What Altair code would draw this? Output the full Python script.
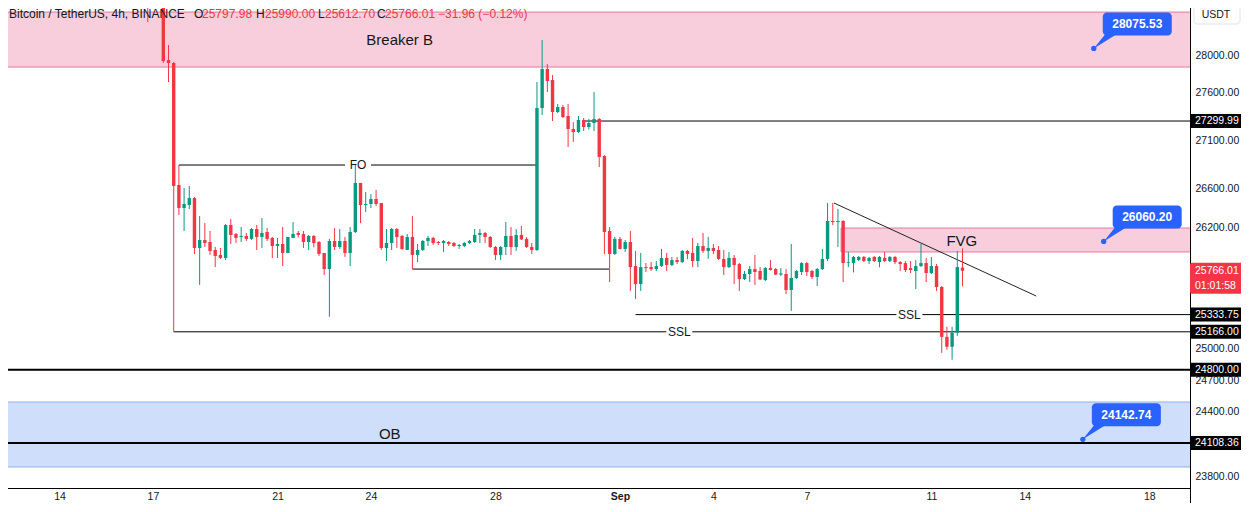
import altair as alt
import pandas as pd

GREEN = "#089981"
RED = "#F23645"
INK = "#131722"
BLUE = "#2962FF"
PINK_FILL = "#F8CEDC"
PINK_EDGE = "#E07A9E"
BLUE_FILL = "#CFDEFB"
BLUE_EDGE = "#8DB0F2"
FONT = "Liberation Sans"

# ---- 4h candles, index 0 = 17 Aug 00:00 ----
first_index = -1
opens = [28900, 28700, 28800, 28600, 27950, 27918, 26634, 26398, 26429, 26500,
         25994, 26074, 26054, 25974, 25924, 25894, 26225, 26135, 26105, 26115,
         26085, 26185, 26105, 26155, 26095, 26014, 26034, 25944, 26095, 26145,
         26135, 26054, 26115, 26054, 25944, 25783, 26064, 26004, 26064, 25944,
         26155, 26655, 26429, 26439, 26490, 26449, 25994, 26044, 26185, 26115,
         25974, 26105, 25924, 25974, 26064, 26095, 26054, 26044, 26054, 26044,
         26014, 26014, 26044, 26054, 26125, 26145, 26105, 26004, 25924, 26004,
         26115, 26004, 26125, 26085, 26004, 25974, 27437, 27854, 27736, 27395,
         27448, 27353, 27216, 27184, 27311, 27237, 27279, 27321, 26934, 26165,
         25934, 26085, 25984, 26054, 25813, 25634, 25803, 25803, 25783, 25813,
         25894, 25823, 25873, 25853, 25964, 25944, 25863, 26014, 25964, 25994,
         25974, 25884, 25803, 25894, 25833, 25684, 25734, 25783, 25764, 25674,
         25793, 25783, 25728, 25734, 25576, 25694, 25754, 25843, 25764, 25704,
         25783, 25884, 26266, 26256, 26266, 25843, 25843, 25874, 25904, 25863,
         25904, 25853, 25894, 25863, 25904, 25853, 25843, 25793, 25764, 25813,
         25843, 25744, 25813, 25605, 25117, 25021, 25156, 25797.98]
highs = [29000, 28900, 28850, 28620, 28113, 27930, 26840, 26603, 26624, 26510,
         26317, 26245, 26165, 26004, 25994, 26235, 26286, 26145, 26205, 26145,
         26195, 26225, 26296, 26195, 26105, 26095, 26205, 26105, 26256, 26165,
         26165, 26125, 26125, 26064, 25944, 26085, 26195, 26185, 26105, 26205,
         26840, 26655, 26562, 26541, 26583, 26449, 26185, 26195, 26195, 26125,
         26135, 26317, 26034, 26074, 26115, 26105, 26064, 26074, 26064, 26054,
         26034, 26054, 26074, 26185, 26185, 26155, 26115, 26014, 26014, 26256,
         26205, 26185, 26215, 26105, 26044, 27714, 28167, 27907, 27789, 27480,
         27470, 27480, 27289, 27353, 27332, 27321, 27607, 27332, 26944, 26205,
         26105, 26105, 26074, 26165, 25964, 25944, 25843, 25853, 25863, 25984,
         25944, 25904, 25904, 25974, 25974, 26095, 26044, 26145, 26105, 26034,
         26014, 25974, 25954, 25924, 25843, 25764, 25813, 25924, 25803, 25803,
         25873, 25793, 25793, 25783, 26034, 25774, 25853, 25853, 25774, 25793,
         25984, 26449, 26449, 26388, 26276, 25954, 25914, 25914, 25914, 25904,
         25914, 25914, 25954, 25914, 25914, 25863, 25863, 25863, 25873, 26034,
         25894, 25904, 25833, 25615, 25215, 25215, 25964, 25990.00]
lows = [28364, 28620, 28560, 27920, 27714, 25166, 26327, 26165, 26388, 25934,
        25625, 26004, 25924, 25803, 25884, 25873, 26034, 26044, 26054, 26064,
        26075, 25974, 25994, 26064, 25894, 25894, 25813, 25944, 26095, 26100,
        25994, 25973, 26000, 25914, 25724, 25312, 25974, 25984, 25904, 25813,
        26145, 26245, 26357, 26398, 26419, 25974, 25863, 25974, 25994, 25974,
        25974, 25783, 25853, 25964, 26014, 26024, 26024, 25954, 26014, 26004,
        25984, 26004, 26034, 26044, 26044, 26044, 25994, 25873, 25873, 25924,
        25924, 25964, 26074, 25994, 25934, 25964, 27363, 27607, 27300, 27384,
        27332, 27027, 27080, 27174, 27195, 27210, 27195, 26819, 25934, 25654,
        25924, 25980, 25954, 25566, 25487, 25566, 25754, 25764, 25764, 25803,
        25764, 25813, 25833, 25843, 25880, 25803, 25803, 25944, 25884, 25934,
        25874, 25724, 25793, 25634, 25566, 25674, 25654, 25625, 25674, 25664,
        25770, 25724, 25714, 25536, 25370, 25684, 25724, 25714, 25684, 25615,
        25774, 25863, 26225, 26004, 25654, 25803, 25750, 25863, 25853, 25833,
        25853, 25800, 25853, 25853, 25833, 25764, 25754, 25744, 25585, 25803,
        25654, 25734, 25566, 24963, 24992, 24896, 25127, 25612.70]
closes = [28700, 28800, 28600, 27940, 27918, 26624, 26398, 26439, 26500, 25994,
          26074, 26044, 25964, 25914, 25894, 26225, 26125, 26095, 26115, 26085,
          26185, 26105, 26145, 26085, 26014, 26034, 25944, 26105, 26135, 26125,
          26054, 26115, 26044, 25934, 25783, 26064, 26004, 26064, 25944, 26155,
          26655, 26429, 26439, 26490, 26439, 25994, 26044, 26185, 26105, 25984,
          26105, 25924, 25974, 26064, 26095, 26044, 26044, 26064, 26034, 26014,
          26024, 26044, 26064, 26125, 26145, 26105, 26004, 25924, 26004, 26115,
          26004, 26125, 26080, 26004, 25974, 27437, 27854, 27725, 27395, 27448,
          27342, 27216, 27184, 27311, 27237, 27279, 27321, 26924, 26155, 25934,
          26085, 25984, 26054, 25803, 25634, 25803, 25793, 25783, 25813, 25894,
          25823, 25873, 25853, 25964, 25934, 25863, 26014, 25964, 25994, 25964,
          25884, 25803, 25894, 25823, 25684, 25734, 25783, 25754, 25680, 25793,
          25774, 25728, 25740, 25576, 25694, 25764, 25843, 25754, 25704, 25783,
          25884, 26266, 26256, 26266, 25843, 25850, 25904, 25904, 25863, 25894,
          25863, 25904, 25863, 25904, 25853, 25833, 25774, 25774, 25813, 25843,
          25744, 25813, 25605, 25117, 25021, 25156, 25803, 25766.01]

# ---- zones ----
pink_zone_names = ["Breaker B", "FVG"]
pink_zone_t0 = [11.0, 39.1]
pink_zone_t1 = [52.0, 52.0]
pink_zone_lo = [27875, 25954]
pink_zone_hi = [28473, 26195]
pink_label_t = [24.924, 42.98]
pink_label_p = [28167, 26064]

blue_zone_names = ["OB"]
blue_zone_t0 = [11.0]
blue_zone_t1 = [52.0]
blue_zone_lo = [23886]
blue_zone_hi = [24493]
blue_label_t = [24.605]
blue_label_p = [24193]

# ---- horizontal levels ----
thin_level_p = [26840, 25166, 25783, 27299.99, 25333.75]
thin_level_t0 = [17.833, 17.667, 25.333, 30.833, 32.5]
thin_level_t1 = [29.333, 52.0, 31.667, 52.0, 52.0]
thick_level_p = [24800.00, 24108.36]
thick_level_t0 = [11.0, 11.0]
thick_level_t1 = [52.0, 52.0]

line_label_text = ["FO", "SSL", "SSL"]
line_label_t = [23.586, 33.904, 41.293]
line_label_p = [26840, 25166, 25333.75]

trend_t = [38.873, 45.369]
trend_p = [26449, 25516]

tag_prices = [27299.99, 25333.75, 25166.00, 24800.00, 24108.36]
last_price = [25766.01]
countdown = ["01:01:58"]

callout_p = [28075.53, 26060.20, 24142.74]
callout_t = [47.217, 47.535, 46.866]

day_ticks = [14, 17, 21, 24, 28, 32, 35, 38, 42, 45, 49]
price_ticks = [23800, 24400, 24700, 25000, 26200, 26600, 27100, 27600, 28000]

symbol_text = "Bitcoin / TetherUS, 4h, BINANCE"
change_text = "\u221231.96 (\u22120.12%)"

# ---- frames ----
candles = pd.DataFrame({"o": opens, "h": highs, "l": lows, "c": closes})
candles["i"] = range(first_index, first_index + len(opens))
candles["t"] = 17 + candles["i"] / 6

pink = pd.DataFrame({"name": pink_zone_names, "t0": pink_zone_t0, "t1": pink_zone_t1,
                     "lo": pink_zone_lo, "hi": pink_zone_hi,
                     "lt": pink_label_t, "lp": pink_label_p})
blue = pd.DataFrame({"name": blue_zone_names, "t0": blue_zone_t0, "t1": blue_zone_t1,
                     "lo": blue_zone_lo, "hi": blue_zone_hi,
                     "lt": blue_label_t, "lp": blue_label_p})
thin = pd.DataFrame({"p": thin_level_p, "t0": thin_level_t0, "t1": thin_level_t1})
thick = pd.DataFrame({"p": thick_level_p, "t0": thick_level_t0, "t1": thick_level_t1})
lbl = pd.DataFrame({"txt": line_label_text, "t": line_label_t, "p": line_label_p})
trend = pd.DataFrame({"t0": [trend_t[0]], "t1": [trend_t[1]],
                      "p0": [trend_p[0]], "p1": [trend_p[1]]})
tags = pd.DataFrame({"p": tag_prices})
last = pd.DataFrame({"p": last_price, "cd": countdown})
calls = pd.DataFrame({"p": callout_p, "t": callout_t})

xs = alt.Scale(domain=[12.2484, 50.1465], nice=False, zero=False)
ys = alt.Scale(type="log", domain=[23693, 28606], nice=False, zero=False)

AX_FS = 10.5
xaxis = alt.Axis(values=day_ticks, title=None, grid=False, ticks=False,
                 labelExpr="datum.value == 32 ? 'Sep' : (datum.value > 31 ? '' + (datum.value - 31) : '' + datum.value)",
                 labelFontWeight={"condition": {"test": "datum.value == 32", "value": "bold"}, "value": "normal"},
                 domainColor="#000000", domainWidth=1, labelColor=INK, labelFont=FONT,
                 labelFontSize=AX_FS, labelPadding=3)
yaxis = alt.Axis(orient="right", values=price_ticks, format=".2f", title=None, grid=False,
                 ticks=False, domainColor="#000000", domainWidth=1, labelColor=INK,
                 labelFont=FONT, labelFontSize=AX_FS, labelPadding=5, labelAlign="left",
                 labelOverlap=False)


def X(f):
    return alt.X(f, type="quantitative", scale=xs, axis=xaxis)


def Y(f):
    return alt.Y(f, type="quantitative", scale=ys, axis=yaxis)


layers = []

# zones
layers.append(alt.Chart(pink).mark_rect(fill=PINK_FILL, stroke=PINK_EDGE, strokeWidth=1, clip=True)
              .encode(x=X("t0"), x2="t1", y=Y("lo"), y2="hi"))
layers.append(alt.Chart(blue).mark_rect(fill=BLUE_FILL, stroke=BLUE_EDGE, strokeWidth=1, clip=True)
              .encode(x=X("t0"), x2="t1", y=Y("lo"), y2="hi"))

# levels
layers.append(alt.Chart(thin).mark_rule(color="#000000", strokeWidth=1, clip=True)
              .encode(x=X("t0"), x2="t1", y=Y("p")))
layers.append(alt.Chart(thick).mark_rule(color="#000000", strokeWidth=2, clip=True)
              .encode(x=X("t0"), x2="t1", y=Y("p")))
layers.append(alt.Chart(trend).mark_rule(color="#222222", strokeWidth=1, clip=True)
              .encode(x=X("t0"), x2="t1", y=Y("p0"), y2="p1"))

# line labels with white gaps
layers.append(alt.Chart(lbl).mark_rect(color="white", xOffset=-13, x2Offset=13, yOffset=-6, y2Offset=6)
              .encode(x=X("t"), x2="t", y=Y("p"), y2="p"))
layers.append(alt.Chart(lbl).mark_text(font=FONT, fontSize=12, color=INK, baseline="middle")
              .encode(x=X("t"), y=Y("p"), text="txt"))

# zone labels
layers.append(alt.Chart(pink).mark_text(font=FONT, fontSize=15, color=INK, baseline="middle")
              .encode(x=X("lt"), y=Y("lp"), text="name"))
layers.append(alt.Chart(blue).mark_text(font=FONT, fontSize=15, color=INK, baseline="middle")
              .encode(x=X("lt"), y=Y("lp"), text="name"))

# candles
col = alt.condition("datum.c >= datum.o", alt.value(GREEN), alt.value(RED))
layers.append(alt.Chart(candles).mark_rule(strokeWidth=1, clip=True)
              .encode(x=X("t"), y=Y("l"), y2="h", color=col))
layers.append(alt.Chart(candles).mark_bar(size=3.4, clip=True)
              .encode(x=X("t"), y=Y("o"), y2="c", color=col))

# callouts
layers.append(alt.Chart(calls).mark_point(shape="M0,0L0.48,-0.6L0.96,-0.6Z", size=2500,
                                          filled=True, color=BLUE, opacity=1, strokeWidth=0)
              .encode(x=X("t"), y=Y("p")))
layers.append(alt.Chart(calls).mark_point(shape="circle", size=28, filled=True, color=BLUE, opacity=1)
              .encode(x=X("t"), y=Y("p")))
layers.append(alt.Chart(calls).mark_rect(color=BLUE, cornerRadius=4, xOffset=9, x2Offset=78,
                                         yOffset=-36, y2Offset=-13)
              .encode(x=X("t"), x2="t", y=Y("p"), y2="p"))
layers.append(alt.Chart(calls).mark_text(font=FONT, fontSize=12, fontWeight="bold", color="white",
                                         dx=43.5, dy=-24.5, baseline="middle")
              .encode(x=X("t"), y=Y("p"), text=alt.Text("p", type="quantitative", format=".2f")))

# price tags on the axis
layers.append(alt.Chart(tags).mark_rect(color="#000000", yOffset=-7, y2Offset=7)
              .encode(x=alt.value(1190), x2=alt.value(1248), y=Y("p"), y2="p"))
layers.append(alt.Chart(tags).mark_text(font=FONT, fontSize=AX_FS, color="white", align="left", baseline="middle")
              .encode(x=alt.value(1195), y=Y("p"), text=alt.Text("p", type="quantitative", format=".2f")))
layers.append(alt.Chart(last).mark_rect(color=RED, yOffset=-8, y2Offset=23, cornerRadius=2)
              .encode(x=alt.value(1190), x2=alt.value(1248), y=Y("p"), y2="p"))
layers.append(alt.Chart(last).mark_text(font=FONT, fontSize=AX_FS, color="white", align="left", baseline="middle")
              .encode(x=alt.value(1195), y=Y("p"), text=alt.Text("p", type="quantitative", format=".2f")))
layers.append(alt.Chart(last).mark_text(font=FONT, fontSize=AX_FS, color="white", align="left", baseline="middle", dy=15)
              .encode(x=alt.value(1195), y=Y("p"), text="cd"))

# unit box and axis extension
layers.append(alt.Chart(pd.DataFrame({"u": ["USDT"]})).mark_rect(fill="white", stroke="#E0E3EB", cornerRadius=3)
              .encode(x=alt.value(1194), x2=alt.value(1240), y=alt.value(2), y2=alt.value(24)))
layers.append(alt.Chart(pd.DataFrame({"u": ["USDT"]})).mark_text(font=FONT, fontSize=AX_FS, color=INK, baseline="middle")
              .encode(x=alt.value(1216), y=alt.value(15), text="u"))
layers.append(alt.Chart(pd.DataFrame({"u": [1]})).mark_rule(color="#000000", strokeWidth=1)
              .encode(x=alt.value(1190.5), y=alt.value(488), y2=alt.value(512)))

# header legend
last_row = candles.iloc[-1]
header = [
    (symbol_text, 9, INK),
    ("O", 194, INK), (f"{last_row['o']:.2f}", 202, RED),
    ("H", 256, INK), (f"{last_row['h']:.2f}", 265, RED),
    ("L", 318, INK), (f"{last_row['l']:.2f}", 325, RED),
    ("C", 377, INK), (f"{last_row['c']:.2f}", 385, RED),
    (change_text, 438, RED),
]
for txt, px, colr in header:
    layers.append(alt.Chart(pd.DataFrame({"s": [txt]})).mark_text(font=FONT, fontSize=12, color=colr,
                                                                 align="left", baseline="middle")
                  .encode(x=alt.value(px), y=alt.value(14), text="s"))

chart = alt.layer(*layers).properties(
    width=1190, height=488,
    autosize=alt.AutoSizeParams(type="none"),
    padding={"left": -8, "top": -8, "right": 51, "bottom": 15},
    background="white",
).configure_view(stroke=None)

chart.save("out.html", embed_options={"renderer": "svg", "actions": False})
